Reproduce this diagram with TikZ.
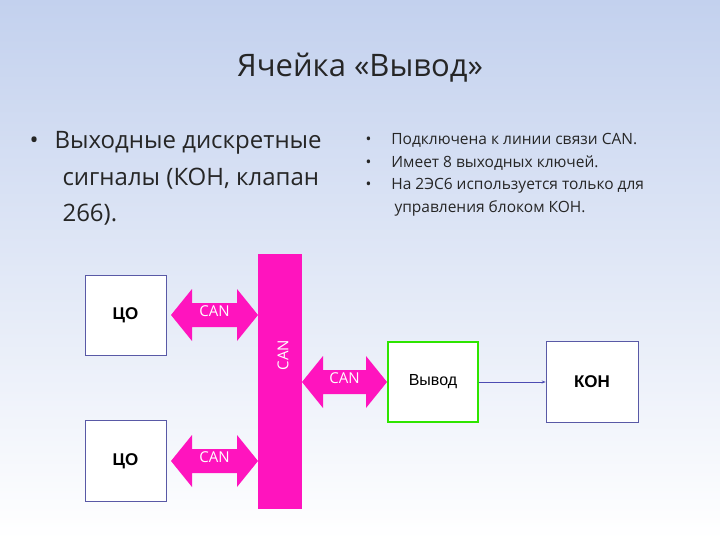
\documentclass[tikz,border=0pt]{standalone}
\usepackage{fontspec}
\setmainfont{Open Sans}
\newfontfamily\arl{Liberation Sans}
\usetikzlibrary{shapes.arrows,arrows.meta}
\definecolor{mag}{HTML}{FF14BE}
\definecolor{bgtop}{HTML}{C3D1EE}
\definecolor{txt}{HTML}{262626}
\begin{document}
\begin{tikzpicture}[x=1pt,y=-1pt,
 box/.style={draw=gray!70!blue,fill=white,line width=0.6pt,font=\arl\fontsize{17}{17}\selectfont\bfseries,text=black},
 lbl/.style={text=white,font=\fontsize{15}{15}\selectfont}]
\shade[top color=bgtop,bottom color=white] (0,0) rectangle (720,540);
\useasboundingbox (0,0) rectangle (720,540);
\node[text=txt,font=\fontsize{31}{31}\selectfont] (title) at (360,68) {Ячейка «Вывод»};
\node[text=txt,anchor=north west,align=left,font=\fontsize{24}{36.5}\selectfont] (lt) at (26,128)
 {•\hspace{16pt}Выходные дискретные\\\hspace{33pt}сигналы (КОН, клапан\\\hspace{33pt}266).};
\node[text=txt,anchor=north west,align=left,font=\fontsize{15.5}{22.5}\selectfont] (rt) at (362,130)
 {•\hspace{20pt}Подключена к линии связи CAN.\\•\hspace{20pt}Имеет 8 выходных ключей.\\•\hspace{20pt}На 2ЭС6 используется только для\\\hspace{29pt}управления блоком КОН.};
% boxes
\node[box,minimum width=81pt,minimum height=80pt] (c1) at (125.5,315) {ЦО};
\node[box,minimum width=81pt,minimum height=81pt] (c2) at (125.5,461) {ЦО};
\node[box,draw=green!80!yellow!90!black,line width=1.5pt,minimum width=90pt,minimum height=80pt,font=\arl\fontsize{16}{16}\selectfont] (v) at (433,382) {Вывод};
\node[box,minimum width=92pt,minimum height=81pt] (k) at (592,382) {КОН};
% bus
\fill[mag] (258,254) rectangle (302,509);
\node[lbl,rotate=90] (bus) at (283,355) {CAN};
% double arrows
\foreach \n/\xa/\xb/\yc in {a1/171/258/315,a2/171/258/461,a3/302/387/382}{
 \fill[mag] (\xa,\yc) -- (\xa+21,\yc-26) -- (\xa+21,\yc-12) -- (\xb-21,\yc-12) -- (\xb-21,\yc-26) -- (\xb,\yc)
  -- (\xb-21,\yc+26) -- (\xb-21,\yc+12) -- (\xa+21,\yc+12) -- (\xa+21,\yc+26) -- cycle;
 \node[lbl] (\n) at ({(\xa+\xb)/2},\yc-4) {CAN};
}
\draw[blue!40!gray,line width=0.8pt,-{Stealth[length=4pt,width=3pt]}] (v.east) -- (k.west);
\end{tikzpicture}
\end{document}
